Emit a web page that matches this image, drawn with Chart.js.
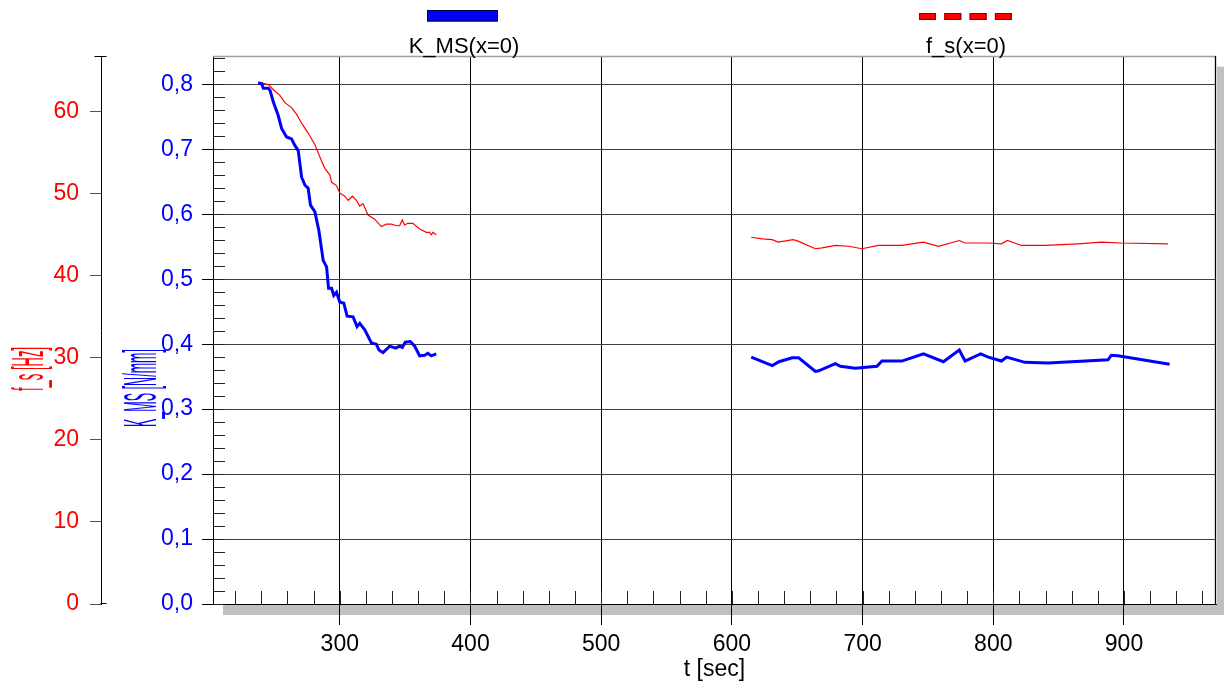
<!DOCTYPE html>
<html><head><meta charset="utf-8">
<script src="https://cdn.jsdelivr.net/npm/chart.js@4.4.1/dist/chart.umd.min.js"></script>
<style>html,body{margin:0;padding:0;background:#fff}#wrap{width:1224px;height:688px}</style>
</head><body><div id="wrap"><canvas id="c" width="1224" height="688"></canvas></div>
<script>
// ---- data ----
const seriesNames = ['K_MS(x=0)', 'f_s(x=0)'];
const xTitle = 't [sec]';
const kTitle = 'K_MS [N/mm]';
const fTitle = 'f_s [Hz]';

// K_MS, first run
const kTimesA = [237.6,240.2,241.5,245.3,246.6,249.1,252.9,255.5,259.3,263.1,265.6,268.2,270.8,273.3,275.8,277.6,280.9,284,287.3,289.9,291.4,293.7,295.4,297.5,300,303.1,305.6,310.2,313.2,315.3,319.1,324.2,328,330,333.1,338.2,342.7,345.8,347.8,350.1,354,357.3,361.1,364.9,367.4,370,373.8];
const kValuesA = [0.802,0.801,0.794,0.794,0.791,0.773,0.752,0.732,0.719,0.716,0.706,0.698,0.657,0.645,0.640,0.614,0.604,0.575,0.529,0.519,0.486,0.486,0.475,0.480,0.465,0.463,0.443,0.442,0.427,0.432,0.422,0.402,0.400,0.391,0.387,0.397,0.394,0.397,0.395,0.403,0.404,0.397,0.382,0.383,0.386,0.382,0.385];
// K_MS, second run
const kTimesB = [614.8,630.9,636,646.2,651.1,663.9,666.4,679.2,683,694.4,711,714.8,730,746.6,761.8,774,778.4,790.3,796.2,806.3,810.2,824.2,842,887.8,890.3,895.4,934.9];
const kValuesB = [0.380,0.367,0.373,0.379,0.379,0.358,0.359,0.370,0.366,0.363,0.366,0.374,0.374,0.385,0.373,0.391,0.374,0.385,0.380,0.374,0.380,0.372,0.371,0.376,0.383,0.382,0.369];
// f_s, first run
const fTimesA = [237.6,245.3,250.4,254.2,258,263.1,266.9,270.8,275.8,280.9,284.7,288.5,292.4,293.7,297.5,300,303.8,306.4,309.7,312.7,315.3,317.8,321.6,326.7,331.8,335.6,339.5,343.3,345.8,347.8,349.6,352.1,355.9,361.1,366.2,368.7,370,371.2,373.8];
const fValuesA = [63.6,63.3,62.5,62.0,61.1,60.5,59.7,58.6,57.4,56.0,54.5,53.1,52.3,51.4,51.0,50.1,49.7,49.2,49.7,49.2,48.5,48.8,47.4,46.9,46.0,46.3,46.3,46.1,46.1,46.8,46.2,46.4,46.4,45.7,45.3,45.3,45.0,45.3,45.0];
// f_s, second run
const fTimesB = [614.8,623.2,630.9,635.3,647,651.1,663.9,669,679.2,689.3,699.5,712.2,730,746.6,758,774,778.4,796.2,806.3,810.7,821.6,839.4,864.9,882.7,898,933.6];
const fValuesB = [44.7,44.5,44.4,44.1,44.4,44.2,43.3,43.4,43.7,43.6,43.3,43.7,43.7,44.1,43.6,44.3,44.0,44.0,43.9,44.3,43.7,43.7,43.9,44.1,44.0,43.9];

const xTickValues = [300,400,500,600,700,800,900];
const kTickValues = [0,0.1,0.2,0.3,0.4,0.5,0.6,0.7,0.8];
const fTickValues = [0,10,20,30,40,50,60];

// ---- styling ----
const BLUE = '#0000ff', RED = '#ff0000';
const FONT = '"Liberation Sans", Arial, sans-serif';
const pts = (ts, vs) => ts.map((t, i) => ({x: t, y: vs[i]}));

function drawRot(ctx, text, baseX, cy, size, len, color) {
  ctx.save();
  ctx.font = size + 'px ' + FONT;
  const w = ctx.measureText(text).width;
  ctx.translate(baseX, cy);
  ctx.rotate(-Math.PI / 2);
  ctx.scale(len / w, 1);
  ctx.fillStyle = color;
  ctx.textAlign = 'center';
  ctx.textBaseline = 'alphabetic';
  ctx.fillText(text, 0, 0);
  ctx.restore();
}

const decor = {
  id: 'decor',
  beforeDraw(chart) {
    const {ctx, chartArea: a} = chart;
    ctx.save();
    ctx.fillStyle = '#c0c0c0';
    ctx.fillRect(a.left + 10, a.bottom, chart.width - a.left - 10, 11);
    ctx.fillRect(a.right + 1, a.top + 10.7, chart.width - a.right - 1, a.bottom - a.top);
    ctx.restore();
  },
  afterDraw(chart) {
    const {ctx, chartArea: a, scales} = chart;
    ctx.save();
    // frame
    ctx.lineWidth = 1.3;
    ctx.strokeStyle = '#a0a0a0';
    ctx.beginPath(); ctx.moveTo(a.left, a.top + 0.5); ctx.lineTo(a.right, a.top + 0.5); ctx.stroke();
    ctx.strokeStyle = '#000';
    ctx.beginPath(); ctx.moveTo(a.right - 0.5, a.top); ctx.lineTo(a.right - 0.5, a.bottom); ctx.stroke();
    // inner minor ticks on K axis
    ctx.lineWidth = 1;
    ctx.strokeStyle = '#222';
    for (let i = 0; i <= 42; i++) {
      const y = Math.round(scales.y.getPixelForValue(i * 0.02)) + 0.5;
      ctx.beginPath(); ctx.moveTo(a.left, y); ctx.lineTo(a.left + 12, y); ctx.stroke();
    }
    // inner minor ticks on t axis
    for (let t = 220; t <= 960; t += 20) {
      const x = Math.round(scales.x.getPixelForValue(t)) + 0.5;
      ctx.beginPath(); ctx.moveTo(x, a.bottom); ctx.lineTo(x, a.bottom - 13); ctx.stroke();
    }
    // f_s axis caps
    const rx = scales.y2.right - 0.5;
    ctx.strokeStyle = '#000';
    ctx.beginPath(); ctx.moveTo(rx - 6, a.top + 0.5); ctx.lineTo(rx + 6, a.top + 0.5); ctx.stroke();
    ctx.beginPath(); ctx.moveTo(rx, a.bottom - 0.5); ctx.lineTo(rx + 6, a.bottom - 0.5); ctx.stroke();
    // legend
    const ds = chart.data.datasets;
    ctx.fillStyle = ds[0].borderColor;
    ctx.fillRect(427, 10, 71, 11.5);
    ctx.strokeStyle = '#000040';
    ctx.strokeRect(427.5, 10.5, 70, 10.5);
    ctx.fillStyle = ds[2].borderColor;
    ctx.strokeStyle = '#900000';
    for (let i = 0; i < 4; i++) {
      const x = 919 + i * 25.3;
      ctx.fillRect(x, 13, 17, 7);
      ctx.strokeRect(x + 0.5, 13.5, 16, 6);
    }
    ctx.fillStyle = '#000';
    ctx.font = '22px ' + FONT;
    ctx.textAlign = 'center';
    ctx.textBaseline = 'alphabetic';
    ctx.fillText(seriesNames[0], 464, 53);
    ctx.fillText(seriesNames[1], 966, 53);
    // rotated axis titles
    drawRot(ctx, fTitle, 43, 369, 45, 44, RED);
    drawRot(ctx, kTitle, 156, 388, 46, 78, BLUE);
    ctx.restore();
  }
};

new Chart(document.getElementById('c').getContext('2d'), {
  type: 'line',
  data: {
    datasets: [
      {label: seriesNames[0], data: pts(kTimesA, kValuesA), borderColor: BLUE, borderWidth: 3, yAxisID: 'y', pointRadius: 0, tension: 0},
      {label: seriesNames[0], data: pts(kTimesB, kValuesB), borderColor: BLUE, borderWidth: 3, yAxisID: 'y', pointRadius: 0, tension: 0},
      {label: seriesNames[1], data: pts(fTimesA, fValuesA), borderColor: RED, borderWidth: 1.2, yAxisID: 'y2', pointRadius: 0, tension: 0},
      {label: seriesNames[1], data: pts(fTimesB, fValuesB), borderColor: RED, borderWidth: 1.2, yAxisID: 'y2', pointRadius: 0, tension: 0}
    ]
  },
  options: {
    responsive: false,
    animation: false,
    layout: {padding: {top: 56, right: 8, left: 0, bottom: 0}},
    plugins: {legend: {display: false}, tooltip: {enabled: false}},
    scales: {
      x: {
        type: 'linear', position: 'bottom', min: 203, max: 970.4,
        afterBuildTicks: s => { s.ticks = xTickValues.map(v => ({value: v})); },
        afterFit: s => { s.height = 84; },
        grid: {color: '#000', lineWidth: 1, tickLength: 21, tickColor: '#000'},
        border: {color: '#000', width: 1},
        ticks: {color: '#000', font: {family: FONT, size: 23}, padding: 6, maxRotation: 0, autoSkip: false, callback: v => String(v)},
        title: {display: true, text: xTitle, color: '#000', font: {family: FONT, size: 23}, padding: {top: 0, bottom: 5}}
      },
      y: {
        position: 'left', min: 0, max: 0.8436, weight: 0,
        afterBuildTicks: s => { s.ticks = kTickValues.map(v => ({value: v})); },
        afterFit: s => { s.width = 112; },
        grid: {color: '#404040', lineWidth: 1, tickLength: 11, tickColor: '#000'},
        border: {color: '#000', width: 1},
        ticks: {color: BLUE, font: {family: FONT, size: 23}, padding: 9, autoSkip: false, callback: v => v.toFixed(1).replace('.', ',')}
      },
      y2: {
        position: 'left', min: 0, max: 66.79, weight: 1,
        afterBuildTicks: s => { s.ticks = fTickValues.map(v => ({value: v})); },
        afterFit: s => { s.width = 101; },
        grid: {drawOnChartArea: false, tickLength: 11, tickColor: '#555'},
        border: {color: '#000', width: 1},
        ticks: {color: RED, font: {family: FONT, size: 23}, padding: 11, autoSkip: false, callback: v => String(v)}
      }
    }
  },
  plugins: [decor]
});
</script>
</body></html>
